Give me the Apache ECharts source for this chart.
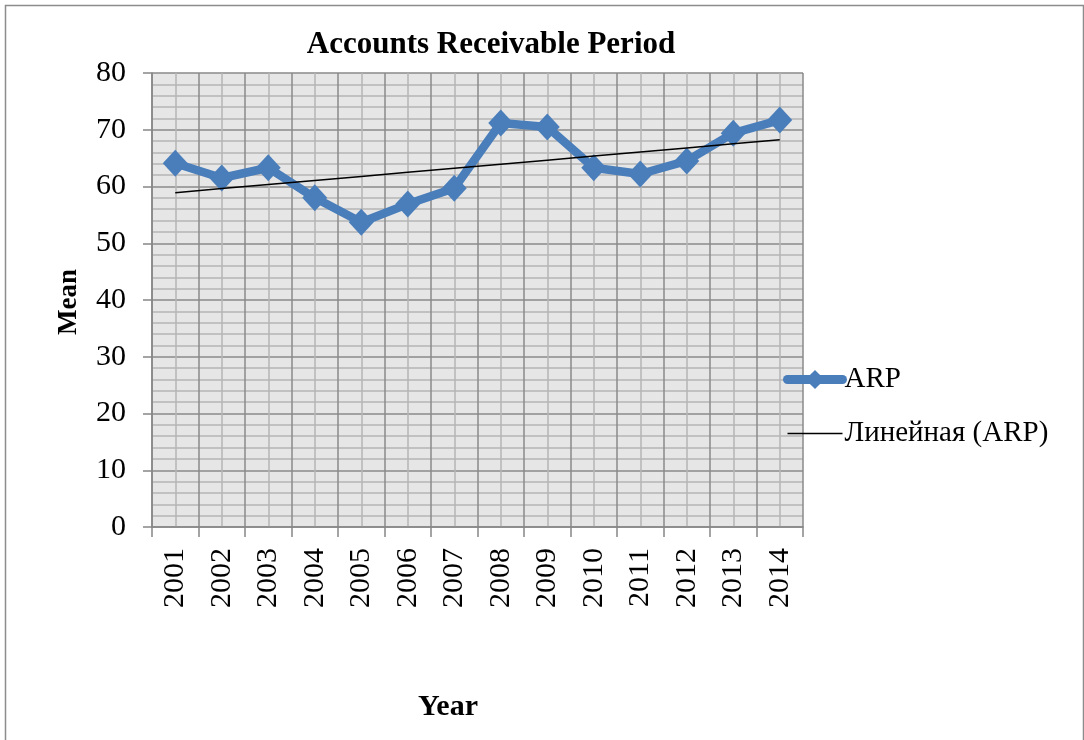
<!DOCTYPE html>
<html>
<head>
<meta charset="utf-8">
<script src="https://cdn.jsdelivr.net/npm/echarts@6/dist/echarts.min.js"></script>
<style>html,body{margin:0;padding:0;background:#fff}#c{width:1084px;height:740px}</style>
</head>
<body>
<div id="c"></div>
<script>
const years = ['2001','2002','2003','2004','2005','2006','2007','2008','2009','2010','2011','2012','2013','2014'];
const arp = [64.1, 61.5, 63.3, 58.0, 53.7, 56.9, 59.7, 71.2, 70.5, 63.3, 62.2, 64.5, 69.4, 71.7];
const yTicks = [0, 10, 20, 30, 40, 50, 60, 70, 80];
const seriesName = 'ARP';
const trendName = 'Линейная (ARP)';

// linear least-squares trendline (Excel "Linear" trendline)
const n = arp.length;
const xs = arp.map((_, i) => i + 1);
const mx = xs.reduce((a, b) => a + b, 0) / n;
const my = arp.reduce((a, b) => a + b, 0) / n;
let sxy = 0, sxx = 0;
for (let i = 0; i < n; i++) { sxy += (xs[i] - mx) * (arp[i] - my); sxx += (xs[i] - mx) ** 2; }
const slope = sxy / sxx, icpt = my - slope * mx;
const trend = xs.map(x => +(icpt + slope * x).toFixed(3));

const FONT = '"Liberation Serif", "Times New Roman", serif';
const BLUE = '#4a7ebb';
const chart = echarts.init(document.getElementById('c'), null, {renderer: 'canvas'});
chart.setOption({
  animation: false,
  backgroundColor: '#ffffff',
  grid: {left: 152, right: 281, top: 73, bottom: 213, show: true, backgroundColor: '#e6e6e6', borderWidth: 0, containLabel: false},
  xAxis: [{
    type: 'category', data: years, boundaryGap: true,
    axisLine: {show: true, lineStyle: {color: '#868686', width: 1.5}},
    axisTick: {show: true, length: 10, alignWithLabel: false, lineStyle: {color: '#868686', width: 1.5}},
    axisLabel: {rotate: 90, margin: 21, fontFamily: FONT, fontSize: 30, color: '#000'},
    splitLine: {show: false}
  }, {
    type: 'value', min: 0, max: 14, interval: 1, position: 'top',
    axisLine: {show: false}, axisTick: {show: false}, axisLabel: {show: false},
    splitLine: {show: true, lineStyle: {color: '#8a8a8a', width: 1.5}},
    minorTick: {show: false, splitNumber: 2},
    minorSplitLine: {show: true, lineStyle: {color: '#b5b5b5', width: 1.5}}
  }],
  yAxis: {
    type: 'value', min: 0, max: 80, interval: 10,
    axisLine: {show: true, lineStyle: {color: '#868686', width: 1.5}},
    axisTick: {show: true, length: 9, lineStyle: {color: '#868686', width: 1.5}},
    axisLabel: {margin: 26, fontFamily: FONT, fontSize: 30, color: '#000',
      formatter: v => yTicks.includes(v) ? String(v) : ''},
    splitLine: {show: true, lineStyle: {color: '#8a8a8a', width: 1.5}},
    minorTick: {show: false, splitNumber: 5},
    minorSplitLine: {show: true, lineStyle: {color: '#b5b5b5', width: 1.5}}
  },
  legend: {
    orient: 'vertical', left: 778, top: 360, itemGap: 25, itemWidth: 55, itemHeight: 24,
    textStyle: {fontFamily: FONT, fontSize: 29, color: '#000', padding: [0, 0, 0, -3]},
    data: [
      {name: seriesName, lineStyle: {width: 9, color: BLUE, cap: 'round'}},
      {name: trendName, itemStyle: {opacity: 0}, lineStyle: {width: 1.5, color: '#000'}}
    ]
  },
  series: [{
    name: seriesName, type: 'line', data: arp, xAxisIndex: 0,
    symbol: 'diamond', symbolSize: [25, 27],
    lineStyle: {color: BLUE, width: 8.5},
    itemStyle: {color: BLUE}, z: 3
  }, {
    name: trendName, type: 'line', data: trend, xAxisIndex: 0,
    symbol: 'none', lineStyle: {color: '#000', width: 1.5}, itemStyle: {color: '#000'}, z: 4
  }],
  graphic: [
    {type: 'rect', left: 3, top: 3, shape: {width: 1078, height: 760}, style: {fill: 'none', stroke: '#8c8c8c', lineWidth: 1.5}, silent: true},
    {type: 'text', x: 491, y: 45, style: {text: 'Accounts Receivable Period', font: 'bold 31px ' + FONT, fill: '#000', align: 'center', verticalAlign: 'middle'}},
    {type: 'text', x: 69, y: 302, rotation: Math.PI / 2, style: {text: 'Mean', font: 'bold 27px ' + FONT, fill: '#000', align: 'center', verticalAlign: 'middle'}},
    {type: 'text', x: 448, y: 707, style: {text: 'Year', font: 'bold 30px ' + FONT, fill: '#000', align: 'center', verticalAlign: 'middle'}}
  ]
});
</script>
</body>
</html>
